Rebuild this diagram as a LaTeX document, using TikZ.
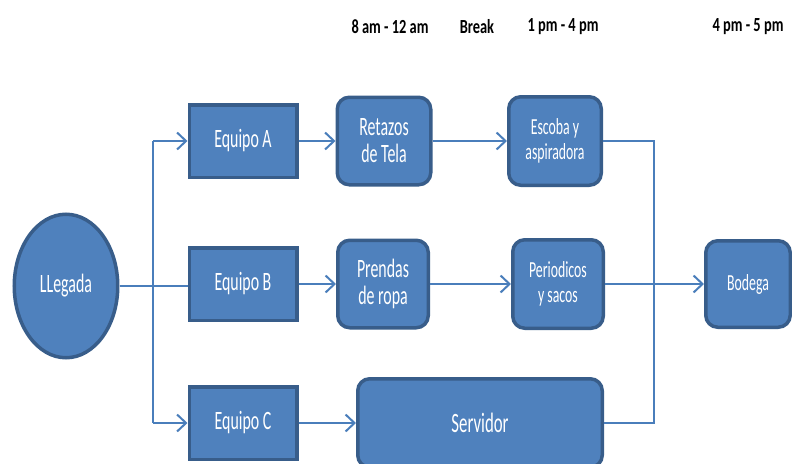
\documentclass[tikz,border=0pt]{standalone}
\usepackage{fontspec}
\setmainfont{Carlito}[FakeStretch=0.6]
\newfontfamily\hdfont{Carlito}[FakeStretch=0.72]
\usetikzlibrary{arrows.meta,shapes.geometric}
\definecolor{bfill}{HTML}{4F81BD}
\definecolor{bline}{HTML}{385D8A}
\definecolor{cline}{HTML}{4A7EBB}
\tikzset{
  blk/.style={draw=bline,fill=bfill,line width=3.5pt,outer sep=1.75pt,inner sep=0pt,
    text=white,align=center,font=\fontsize{26.5}{27}\selectfont},
  sqbox/.style={blk,rectangle},
  rbox/.style={blk,rectangle,rounded corners=12pt},
  oval/.style={blk,ellipse},
  conn/.style={draw=cline,line width=2pt},
  arr/.style={conn,-{Straight Barb[length=9pt,width=17pt]}},
  smalltxt/.style={font=\fontsize{23}{25}\selectfont},
  hdr/.style={font=\hdfont\bfseries\fontsize{20}{22}\selectfont,inner sep=0pt}
}
\begin{document}
\begin{tikzpicture}[x=1pt,y=-1pt]
\useasboundingbox (0,0) rectangle (792,463);
\begin{scope}
\clip (0,0) rectangle (792,463);
% headers
\node[hdr] (h1) at (390,27) {8 am - 12 am};
\node[hdr] (h2) at (477,27) {Break};
\node[hdr] (h3) at (563,27) {1 pm - 4 pm};
\node[hdr] (h4) at (748,27) {4 pm - 5 pm};
% nodes
\node[oval,minimum width=103.5pt,minimum height=143.5pt] (ll) at (66,286) {LLegada};
\node[sqbox,minimum width=107.5pt,minimum height=72.5pt] (ea) at (243,141) {Equipo A};
\node[sqbox,minimum width=107.5pt,minimum height=72.5pt] (eb) at (243,284) {Equipo B};
\node[sqbox,minimum width=107.5pt,minimum height=72.5pt] (ec) at (243,423) {Equipo C};
\node[rbox,minimum width=93.5pt,minimum height=87.5pt] (rt) at (384,141) {Retazos\\de Tela};
\node[rbox,minimum width=90.5pt,minimum height=87.5pt] (pr) at (383,284) {Prendas\\de ropa};
\node[rbox,minimum width=244.5pt,minimum height=88.5pt,font=\fontsize{28}{30}\selectfont] (sv) at (480,423) {Servidor};
\node[rbox,minimum width=92.5pt,minimum height=88.5pt,smalltxt] (es) at (555,141) {Escoba y\\aspiradora};
\node[rbox,minimum width=90.5pt,minimum height=88.5pt,smalltxt] (pe) at (558,284) {Periodicos\\y sacos};
\node[rbox,minimum width=84.5pt,minimum height=86.5pt,smalltxt] (bo) at (748,284) {Bodega};
% connectors
\coordinate (br) at (153,286);
\coordinate (cx) at (654,284);
\draw[conn] (ll.east |- br) -- (br -| eb.west);
\draw[conn] (br |- ea) -- (br |- ec);
\draw[arr] (br |- ea) -- (ea.west);
\draw[arr] (br |- ec) -- (ec.west);
\draw[arr] (ea.east) -- (rt.west);
\draw[arr] (eb.east) -- (pr.west);
\draw[arr] (ec.east) -- (sv.west);
\draw[arr] (rt.east) -- (es.west);
\draw[arr] (pr.east) -- (pe.west);
\draw[conn] (es.east) -- (es.east -| cx) -- (cx |- sv.east) -- (sv.east);
\draw[arr] (pe.east) -- (bo.west);
\end{scope}
\end{tikzpicture}
\end{document}
